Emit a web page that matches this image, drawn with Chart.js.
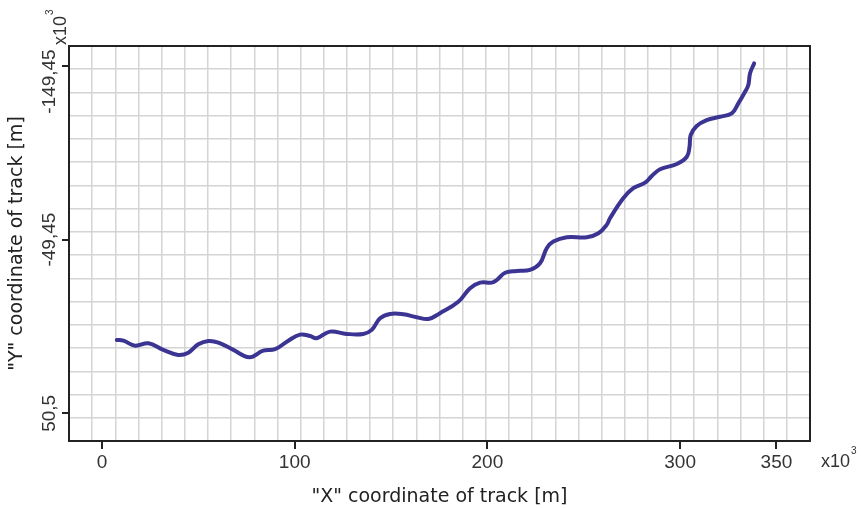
<!DOCTYPE html>
<html>
<head>
<meta charset="utf-8">
<script src="https://cdn.jsdelivr.net/npm/chart.js@4.4.1/dist/chart.umd.min.js"></script>
<style>
  html, body { margin: 0; padding: 0; background: #fff; }
  canvas { display: block; }
</style>
</head>
<body>
<canvas id="trackChart" width="861" height="509"></canvas>
<script>
// track coordinates, x10^3 m
const trackX = [7.7, 11.1, 17.2, 24.1, 31.8, 39.6, 44.8, 50.0, 55.2, 60.4, 68.2, 76.5, 83.7, 89.8, 96.7,
  102.8, 108.0, 111.4, 118.3, 127.0, 135.6, 140.0, 144.3, 149.5, 156.4, 163.3, 169.4, 175.4, 184.9, 191.0,
  196.2, 202.3, 204.9, 209.2, 215.2, 222.1, 227.3, 230.8, 234.2, 241.2, 251.6, 257.6, 261.9, 263.6, 270.5,
  275.7, 281.8, 285.3, 289.6, 298.3, 303.5, 304.9, 305.5, 308.6, 313.8, 320.7, 326.8, 330.2, 333.7, 335.4,
  336.3, 338.4];
const trackY = [8.3, 8.7, 11.6, 10.2, 14.0, 16.9, 15.6, 10.8, 8.9, 9.8, 14.0, 18.2, 14.4, 13.6, 8.7,
  5.2, 6.0, 7.3, 3.5, 4.8, 4.8, 2.5, -4.2, -6.7, -6.5, -4.8, -3.8, -7.1, -13.7, -21.5,
  -24.7, -24.7, -26.2, -30.4, -31.4, -32.0, -35.8, -44.5, -48.3, -50.8, -50.8, -53.1, -57.9, -61.7, -73.2,
  -79.0, -82.2, -86.0, -89.9, -92.9, -97.1, -102.9, -109.6, -114.8, -118.2, -120.1, -122.1, -127.8, -134.5, -138.4,
  -145.1, -150.8];

const xTicks = [0, 100, 200, 300, 350];
const xTickLabels = ['0', '100', '200', '300', '350'];
const yTicks = [-149.45, -49.45, 50.5];
const yTickLabels = ['-149,45', '-49,45', '50,5'];

const points = trackX.map((x, i) => ({ x: x, y: trackY[i] }));

const tickFont = { family: '"Liberation Sans", Arial, sans-serif', size: 19 };
const titleFont = { family: '"DejaVu Sans", Verdana, sans-serif', size: 19 };
const frame = { display: true, color: '#222', width: 2 };
const gridColor = (c) => (c.index === 0 || c.index === c.scale.ticks.length - 1) ? 'rgba(0,0,0,0)' : '#d4d4d4';

// "x10^3" multipliers next to both axes
const multipliers = {
  id: 'multipliers',
  afterDraw(chart) {
    const { ctx, chartArea } = chart;
    ctx.save();
    ctx.fillStyle = '#333';
    ctx.textBaseline = 'middle';
    ctx.textAlign = 'left';

    const bx = chartArea.right + 11;
    const by = chart.scales.x.top + 21;
    ctx.font = '18px "Liberation Sans", Arial, sans-serif';
    const bw = ctx.measureText('x10').width;
    ctx.fillText('x10', bx, by);
    ctx.font = '10px "Liberation Sans", Arial, sans-serif';
    ctx.fillText('3', bx + bw + 1, by - 11);

    ctx.translate(61, chartArea.top - 1);
    ctx.rotate(-Math.PI / 2);
    ctx.font = '18px "Liberation Sans", Arial, sans-serif';
    const w = ctx.measureText('x10').width;
    ctx.fillText('x10', 0, 0);
    ctx.font = '10px "Liberation Sans", Arial, sans-serif';
    ctx.fillText('3', w + 1, -11);
    ctx.restore();
  }
};

new Chart(document.getElementById('trackChart'), {
  type: 'line',
  data: {
    datasets: [{
      data: points,
      borderColor: '#3b3492',
      borderWidth: 4,
      borderCapStyle: 'round',
      pointRadius: 0,
      tension: 0.4,
      fill: false
    }]
  },
  options: {
    responsive: false,
    animation: false,
    devicePixelRatio: 1,
    layout: { padding: 0 },
    plugins: { legend: { display: false }, tooltip: { enabled: false } },
    scales: {
      x: {
        type: 'linear',
        position: 'bottom',
        min: -17.1,
        max: 367.4,
        afterBuildTicks: (s) => { s.ticks = xTicks.map(v => ({ value: v })); },
        afterFit: (s) => { s.height = 68; },
        ticks: {
          callback: (v, i) => xTickLabels[i],
          font: tickFont, color: '#333', padding: 2, autoSkip: false, maxRotation: 0
        },
        grid: { drawOnChartArea: false, drawTicks: true, tickLength: 8, color: '#222', lineWidth: 2 },
        border: frame,
        title: { display: true, text: '"X" coordinate of track [m]', font: titleFont, color: '#222', padding: { top: 0, bottom: 1 } }
      },
      y: {
        type: 'linear',
        position: 'left',
        reverse: true,
        min: -160.8,
        max: 66.4,
        afterBuildTicks: (s) => { s.ticks = yTicks.map(v => ({ value: v })); },
        afterFit: (s) => { s.width = 69; },
        ticks: {
          // top label sits a little below its tick so it clears the x10^3 mark
          callback: (v, i) => i === 0 ? yTickLabels[i] + '      ' : yTickLabels[i],
          minRotation: 90, maxRotation: 90, crossAlign: 'center', padding: -36,
          font: tickFont, color: '#333', autoSkip: false
        },
        grid: { drawOnChartArea: false, drawTicks: true, tickLength: 7, color: '#222', lineWidth: 2 },
        border: frame,
        title: { display: true, text: '"Y" coordinate of track [m]', font: titleFont, color: '#222', padding: { top: 6, bottom: 0 } }
      },
      gx: {
        type: 'linear',
        position: 'top',
        min: 0,
        max: 32,
        afterFit: (s) => { s.height = 46; },
        ticks: { display: false, stepSize: 1, autoSkip: false },
        grid: { color: gridColor, lineWidth: 1.5, drawTicks: false },
        border: frame
      },
      gy: {
        type: 'linear',
        position: 'right',
        min: 0,
        max: 17,
        afterFit: (s) => { s.width = 51; },
        ticks: { display: false, stepSize: 1, autoSkip: false },
        grid: { color: gridColor, lineWidth: 1.5, drawTicks: false },
        border: frame
      }
    }
  },
  plugins: [multipliers]
});
</script>
</body>
</html>
